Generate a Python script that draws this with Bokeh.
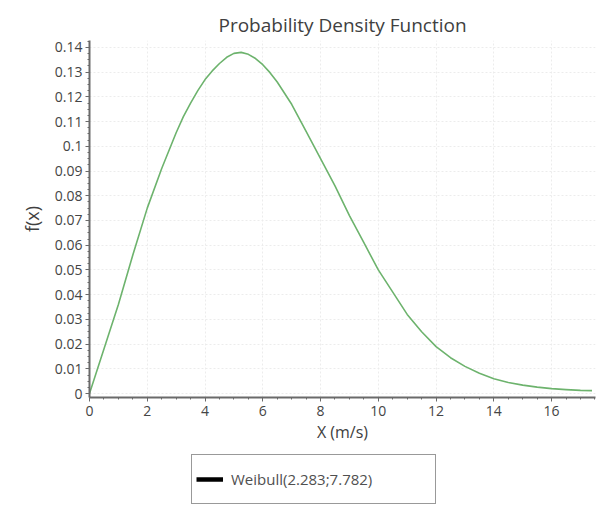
from bokeh.plotting import figure
from bokeh.layouts import column
from bokeh.models import (Range1d, FixedTicker, NumeralTickFormatter, Legend, LegendItem, Title)
from bokeh.embed import file_html
from bokeh.resources import INLINE

# values
x_vals = [0, 0.5, 1, 1.5, 2, 2.5, 3, 3.25, 3.5, 3.75, 4, 4.25, 4.5, 4.75, 5, 5.25, 5.5,
          5.75, 6, 6.25, 6.5, 7, 7.5, 8, 8.5, 9, 9.5, 10, 10.5, 11, 11.5, 12, 12.5, 13,
          13.5, 14, 14.5, 15, 15.5, 16, 16.5, 17, 17.4]
pdf_vals = [0.0, 0.018, 0.036, 0.056, 0.075, 0.091, 0.1055, 0.112, 0.1175, 0.1225, 0.127,
            0.1305, 0.1335, 0.136, 0.1376, 0.138, 0.1372, 0.1355, 0.133, 0.1298, 0.126,
            0.117, 0.106, 0.095, 0.084, 0.072, 0.061, 0.050, 0.041, 0.032, 0.025, 0.019,
            0.0145, 0.011, 0.0082, 0.006, 0.0045, 0.0034, 0.0026, 0.002, 0.0016, 0.0013,
            0.0012]
x_ticks = [0, 2, 4, 6, 8, 10, 12, 14, 16]
y_ticks = [0, 0.01, 0.02, 0.03, 0.04, 0.05, 0.06, 0.07, 0.08, 0.09, 0.1, 0.11, 0.12, 0.13, 0.14]
series_label = "Weibull(2.283;7.782)"
title_text = "Probability Density Function"
x_label = "X (m/s)"
y_label = "f(x)"

FONT = "Open Sans"
TXT = "#454545"
AX = "#6a6a6a"

p = figure(width=600, height=452, output_backend="svg", toolbar_location=None,
           x_range=Range1d(0, 17.52), y_range=Range1d(-0.0016, 0.1428),
           min_border_left=89, min_border_right=5, min_border_top=40, min_border_bottom=55)
p.title = None
p.add_layout(Title(text=title_text, align="center", text_font=FONT, text_font_size="19px",
                   text_color="#404040", text_font_style="normal", standoff=6), "above")
p.outline_line_color = None
p.background_fill_color = "white"
p.border_fill_color = "white"

p.line(x_vals, pdf_vals, line_color="#6db36d", line_width=1.6, line_join="round")

# axes
p.xaxis.ticker = FixedTicker(ticks=x_ticks, minor_ticks=[i * 0.5 for i in range(36)])
p.yaxis.ticker = FixedTicker(ticks=y_ticks, minor_ticks=[i * 0.0025 for i in range(58)])
p.yaxis.formatter = NumeralTickFormatter(format="0.[00]")
for ax in (p.xaxis, p.yaxis):
    ax.axis_line_color = AX
    ax.axis_line_width = 2
    ax.major_tick_line_color = AX
    ax.minor_tick_line_color = AX
    ax.major_tick_in = 0
    ax.major_tick_out = 4
    ax.minor_tick_in = 0
    ax.minor_tick_out = 2
    ax.major_label_text_font = FONT
    ax.major_label_text_font_size = "14px"
    ax.major_label_text_color = TXT
    ax.axis_label_text_font = FONT
    ax.axis_label_text_color = "#404040"
    ax.axis_label_text_font_style = "normal"
p.xaxis.axis_label = x_label
p.xaxis.axis_label_text_font_size = "16px"
p.xaxis.axis_label_standoff = 2
p.xaxis.major_label_standoff = 4
p.yaxis.axis_label = y_label
p.yaxis.axis_label_text_font_size = "18px"
p.yaxis.axis_label_standoff = 8
p.yaxis.major_label_standoff = 3

p.xgrid.grid_line_color = "#ececec"
p.ygrid.grid_line_color = "#ececec"
p.xgrid.grid_line_dash = "2 2"
p.ygrid.grid_line_dash = "2 2"

# legend strip below the chart
lg = figure(width=600, height=54, output_backend="svg", toolbar_location=None,
            x_range=Range1d(0, 1), y_range=Range1d(0, 1),
            x_axis_location=None, y_axis_location=None,
            min_border_left=0, min_border_right=0, min_border_top=0, min_border_bottom=0)
lg.outline_line_color = None
lg.grid.visible = False
lg.background_fill_color = "white"
lg.border_fill_color = "white"
dummy = lg.line(x=[-5, -4], y=[-5, -5], line_color="black", line_width=4.5)
legend = Legend(items=[LegendItem(label=series_label, renderers=[dummy])],
                location=(102, 2), orientation="horizontal",
                label_text_font=FONT, label_text_font_size="15px", label_text_color="#505050",
                border_line_color="#333333", border_line_width=1.5,
                background_fill_color="white", background_fill_alpha=1.0,
                padding=4, margin=0, glyph_width=27, label_standoff=8,
                label_width=200, label_height=40, spacing=0)
lg.add_layout(legend, "center")

open("out.html", "w").write(file_html(column(p, lg, spacing=0), INLINE))
